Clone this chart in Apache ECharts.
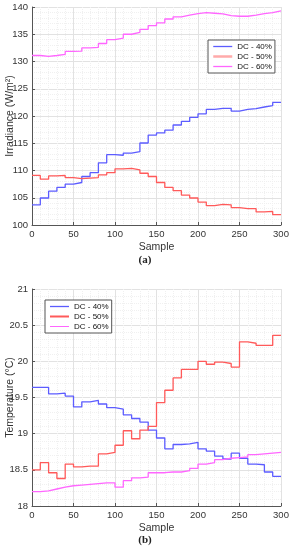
<!DOCTYPE html>
<html>
<head>
<meta charset="utf-8">
<script src="https://cdn.jsdelivr.net/npm/echarts@6/dist/echarts.min.js"></script>
<style>html,body{margin:0;padding:0;background:#fff}#c{width:290px;height:550px}</style>
</head>
<body>
<div id="c"></div>
<script>
// Sample positions (each step holds for 10 samples)
const samples = [0,10,20,30,40,50,60,70,80,90,100,110,120,130,140,150,160,170,180,190,200,210,220,230,240,250,260,270,280,290];
const seriesNames = ['DC - 40%', 'DC - 50%', 'DC - 60%'];

// (a) Irradiance (W/m²)
const irr40 = [103.7,104.95,106.2,106.9,107.5,107.8,108.9,109.6,111.4,112.9,112.8,113.2,113.45,115.05,116.5,116.9,117.4,118.35,119.0,119.75,120.4,121.2,121.4,121.4,120.9,121.2,121.35,121.65,121.9,122.5];
const irr50 = [109.1,108.4,109.0,109.1,108.7,108.5,108.6,108.7,109.2,109.6,110.3,110.4,110.1,109.5,108.9,107.8,106.9,106.3,105.5,104.95,104.2,103.55,103.8,103.7,103.2,103.0,103.0,102.4,102.5,101.9];
const irr60 = [131.1,130.95,131.1,131.3,131.85,131.9,132.5,132.6,133.3,134.0,134.3,135.0,135.35,135.9,136.6,137.1,137.8,138.2,138.5,138.8,138.95,138.85,138.75,138.4,138.3,138.3,138.5,138.8,138.95,139.3];

// (b) Temperature (°C)
const tmp40 = [19.64,19.64,19.55,19.56,19.52,19.37,19.44,19.46,19.41,19.36,19.34,19.26,19.21,19.16,19.05,18.94,18.79,18.85,18.86,18.88,18.79,18.76,18.69,18.65,18.73,18.66,18.58,18.57,18.47,18.41];
const tmp50 = [18.50,18.60,18.46,18.38,18.58,18.54,18.55,18.55,18.72,18.74,18.84,19.04,18.93,19.05,19.10,19.43,19.60,19.77,19.89,19.89,20.00,19.96,19.99,19.97,19.92,20.27,20.25,20.22,20.22,20.36];
const tmp60 = [18.20,18.21,18.235,18.26,18.28,18.29,18.30,18.31,18.32,18.32,18.26,18.35,18.39,18.40,18.46,18.46,18.47,18.47,18.49,18.52,18.58,18.60,18.64,18.66,18.67,18.68,18.71,18.72,18.73,18.74];

const xEnd = 300;
const colors = ['#5c5cff', '#ff5a5a', '#ff66ff'];

function pts(vals) {
  const d = samples.map((s, i) => [s, vals[i]]);
  d.push([xEnd, vals[vals.length - 1]]);
  return d;
}

const FONT = 'Liberation Sans';
function xAxis(gi) {
  return {
    type: 'value', gridIndex: gi, min: 0, max: 300, interval: 50,
    name: 'Sample', nameLocation: 'middle', nameGap: 17, nameMoveOverlap: false,
    nameTextStyle: {fontFamily: FONT, fontSize: 10.5, color: '#333', verticalAlign: 'top'},
    axisLine: {show: true, onZero: false, lineStyle: {color: '#555', width: 1}},
    axisTick: {show: true, inside: true, length: 3, lineStyle: {color: '#555'}},
    axisLabel: {fontFamily: FONT, fontSize: 9.5, color: '#333', margin: 4},
    splitLine: {show: true, lineStyle: {color: '#e2e2e2', width: 1}},
    minorTick: {show: false, splitNumber: 5},
    minorSplitLine: {show: true, lineStyle: {color: '#f0f0f0', width: 1, type: 'dotted'}}
  };
}
function yAxis(gi, min, max, interval, name) {
  return {
    type: 'value', gridIndex: gi, min: min, max: max, interval: interval,
    name: name, nameLocation: 'middle', nameGap: 16, nameRotate: 90, nameMoveOverlap: false,
    nameTextStyle: {fontFamily: FONT, fontSize: 10.5, color: '#333'},
    axisLine: {show: true, onZero: false, lineStyle: {color: '#555', width: 1}},
    axisTick: {show: true, inside: true, length: 3, lineStyle: {color: '#555'}},
    axisLabel: {fontFamily: FONT, fontSize: 9.5, color: '#333', margin: 4},
    splitLine: {show: true, lineStyle: {color: '#e2e2e2', width: 1}},
    minorTick: {show: false, splitNumber: 5},
    minorSplitLine: {show: true, lineStyle: {color: '#f0f0f0', width: 1, type: 'dotted'}}
  };
}
function line(name, vals, gi, color, width) {
  return {
    name: name, type: 'line', xAxisIndex: gi, yAxisIndex: gi,
    data: pts(vals), step: 'end', symbol: 'none', showSymbol: false, animation: false,
    lineStyle: {color: color, width: width}, itemStyle: {color: color}
  };
}
function legend(left, top, styles) {
  return {
    orient: 'vertical', left: left, top: top,
    padding: [2, 3, 2, 4], itemGap: 1, itemWidth: 19, itemHeight: 7,
    borderColor: '#555', borderWidth: 1, backgroundColor: '#fff', borderRadius: 0,
    textStyle: {fontFamily: FONT, fontSize: 8, lineHeight: 9, color: '#111'},
    selectedMode: false,
    itemStyle: {opacity: 0},
    data: seriesNames.map((n, i) => ({name: n, lineStyle: styles[i], itemStyle: {opacity: 0}}))
  };
}

const chart = echarts.init(document.getElementById('c'), null, {renderer: 'canvas'});
chart.setOption({
  animation: false,
  backgroundColor: '#fff',
  grid: [
    {left: 32, right: 9, top: 7, height: 218, containLabel: false, outerBoundsMode: 'none'},
    {left: 32, right: 9, top: 289, height: 217, containLabel: false, outerBoundsMode: 'none'}
  ],
  xAxis: [xAxis(0), xAxis(1)],
  yAxis: [
    yAxis(0, 100, 140, 5, 'Irradiance (W/m²)'),
    yAxis(1, 18, 21, 0.5, 'Temperature (°C)')
  ],
  legend: [
    legend(208, 40, [{color: colors[0], width: 1.3}, {color: '#ffaaaa', width: 2.5}, {color: colors[2], width: 1.3}]),
    legend(45, 300, [{color: colors[0], width: 1.3}, {color: colors[1], width: 2}, {color: colors[2], width: 1}])
  ],
  graphic: [
    {type: 'text', left: 'center', top: 255, style: {text: '(a)', font: 'bold 11px "Liberation Serif"', fill: '#222'}},
    {type: 'text', left: 'center', top: 535, style: {text: '(b)', font: 'bold 11px "Liberation Serif"', fill: '#222'}}
  ],
  series: [
    line(seriesNames[0], irr40, 0, colors[0], 1.3),
    line(seriesNames[1], irr50, 0, colors[1], 1.3),
    line(seriesNames[2], irr60, 0, colors[2], 1.3),
    line(seriesNames[0], tmp40, 1, colors[0], 1.3),
    line(seriesNames[1], tmp50, 1, colors[1], 1.3),
    line(seriesNames[2], tmp60, 1, colors[2], 1.3)
  ]
});
</script>
</body>
</html>
